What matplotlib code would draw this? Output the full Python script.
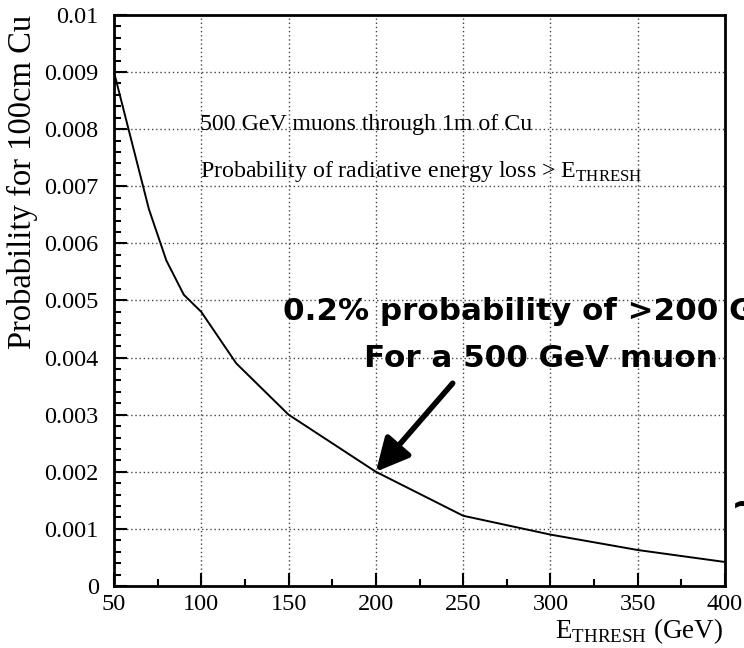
import matplotlib
matplotlib.use("Agg")
import matplotlib.pyplot as plt
from matplotlib.ticker import MultipleLocator

# muon radiative loss probability vs threshold energy (500 GeV, 1 m Cu)
e_thresh = [50, 60, 70, 80, 90, 100, 120, 150, 200, 250, 300, 350, 400]
prob = [0.0090, 0.0078, 0.0066, 0.0057, 0.0051, 0.0048, 0.0039, 0.0030,
        0.0020, 0.00123, 0.00090, 0.00063, 0.00042]

x_ticks = [50, 100, 150, 200, 250, 300, 350, 400]
y_ticks = [0, 0.001, 0.002, 0.003, 0.004, 0.005, 0.006, 0.007, 0.008, 0.009, 0.01]
y_labels = ["0", "0.001", "0.002", "0.003", "0.004", "0.005", "0.006",
            "0.007", "0.008", "0.009", "0.01"]

# point the arrow at the 200 GeV value
arrow_e = 200
arrow_p = prob[e_thresh.index(arrow_e)]

plt.rcParams["font.family"] = "Liberation Serif"
plt.rcParams["mathtext.fontset"] = "custom"
plt.rcParams["mathtext.rm"] = "Liberation Serif"

fig = plt.figure(figsize=(7.44, 6.48), dpi=100)
ax = fig.add_axes([0.1532, 0.0957, 0.8213, 0.8812])

ax.plot(e_thresh, prob, color="black", linewidth=1.4)

ax.set_xlim(50, 400)
ax.set_ylim(0, 0.01)
ax.set_xticks(x_ticks)
ax.set_yticks(y_ticks)
ax.set_yticklabels(y_labels)
ax.xaxis.set_minor_locator(MultipleLocator(25))
ax.yaxis.set_minor_locator(MultipleLocator(0.0002))
ax.tick_params(which="both", direction="in", top=False, right=False,
               width=1.5, labelsize=17.5, color="black")
ax.tick_params(which="major", length=9.5, pad=6)
ax.tick_params(which="minor", length=5)
ax.tick_params(axis="y", pad=11)
for s in ax.spines.values():
    s.set_linewidth(2)

ax.grid(True, which="major", linestyle=(0, (1, 2)), color="#444444", linewidth=1)

ax.set_ylabel("Probability for 100cm Cu", fontsize=23.5)
ax.yaxis.set_label_coords(-0.149, 1.0)
ax.yaxis.label.set_horizontalalignment("right")
ax.yaxis.label.set_verticalalignment("center")
ax.set_xlabel(r"E$_{\rm THRESH}$ (GeV)", fontsize=19.5)
ax.xaxis.set_label_coords(0.997, -0.091)
ax.xaxis.label.set_horizontalalignment("right")
ax.xaxis.label.set_verticalalignment("baseline")

ax.text(0.1408, 0.7986, "500 GeV muons through 1m of Cu", transform=ax.transAxes,
        fontsize=17.2, va="baseline")
ax.text(0.1408, 0.716, r"Probability of radiative energy loss > E$_{\rm THRESH}$",
        transform=ax.transAxes, fontsize=17.2, va="baseline")

# hand-written style callout
callout = dict(transform=ax.transAxes, ha="center", va="baseline", fontsize=22.3,
               fontweight="bold", family="DejaVu Sans", clip_on=False)
ax.text(0.699, 0.4658, "0.2% probability of >200 GeV", **callout)
ax.text(0.699, 0.3835, "For a 500 GeV muon", **callout)
ax.annotate("", xy=(arrow_e, arrow_p), xytext=(244, 0.00355),
            arrowprops=dict(arrowstyle="-|>,head_width=1.0,head_length=2.0",
                            color="black", linewidth=4, shrinkA=0, shrinkB=0))
fig.text(0.983, 0.22, "~", fontsize=28, fontweight="bold", family="DejaVu Sans",
         va="center")

fig.savefig("out.png", dpi=100)
